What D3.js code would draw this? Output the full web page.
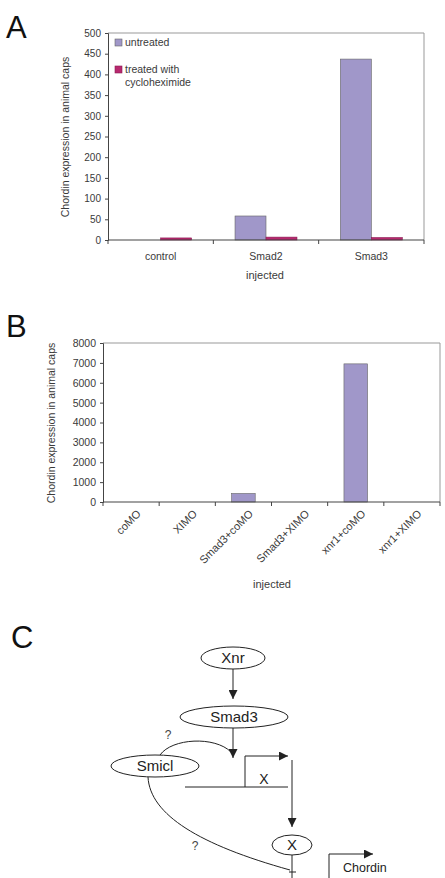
<!DOCTYPE html>
<html>
<head>
<meta charset="utf-8">
<script src="https://cdn.jsdelivr.net/npm/d3@7"></script>
<style>
  body { margin: 0; background: #fff; }
  svg { display: block; font-family: "Liberation Sans", Arial, sans-serif; }
</style>
</head>
<body>
<svg id="fig" width="445" height="878"></svg>
<script>
// panel A data
const catsA = ["control", "Smad2", "Smad3"];
const seriesA = ["untreated", "treated with cycloheximide"];
const untreatedA = [0, 58, 437];
const cycloA = [5, 7, 6];
const ticksA = [0, 50, 100, 150, 200, 250, 300, 350, 400, 450, 500];

// panel B data
const catsB = ["coMO", "XIMO", "Smad3+coMO", "Smad3+XIMO", "xnr1+coMO", "xnr1+XIMO"];
const valuesB = [0, 0, 430, 0, 6950, 0];
const ticksB = [0, 1000, 2000, 3000, 4000, 5000, 6000, 7000, 8000];

const purple = "#a097c9";
const magenta = "#b8286f";
const txt = "#3a3a3a";

const svg = d3.select("#fig");

// panel letters
[["A", 6, 38], ["B", 6, 337], ["C", 11, 648]].forEach(([t, x, y]) => {
  svg.append("text").attr("x", x).attr("y", y)
    .attr("font-size", 31).attr("fill", "#111").text(t);
});

function frame(g, x0, x1, y0, y1) {
  g.append("path")
    .attr("d", `M${x0},${y0}H${x1}V${y1}`)
    .attr("fill", "none").attr("stroke", "#999").attr("stroke-width", 1);
}

function leftAxis(g, y, ticks, x0, fs) {
  const ax = g.append("g").attr("transform", `translate(${x0},0)`)
    .call(d3.axisLeft(y).tickValues(ticks).tickFormat(d3.format("d")).tickSize(3).tickPadding(4));
  ax.select(".domain").attr("stroke", "#444");
  ax.selectAll(".tick line").attr("stroke", "#444");
  ax.selectAll("text").attr("font-size", fs).attr("fill", txt)
    .attr("font-family", "Liberation Sans, Arial, sans-serif");
}

function bottomBoundaries(g, x, cats, y0) {
  const edges = cats.map(c => x(c)).concat([x.range()[1]]);
  g.append("line").attr("x1", x.range()[0]).attr("x2", x.range()[1])
    .attr("y1", y0).attr("y2", y0).attr("stroke", "#444").attr("stroke-width", 1.2);
  g.selectAll(".edge").data(edges).enter().append("line")
    .attr("x1", d => d).attr("x2", d => d)
    .attr("y1", y0).attr("y2", y0 + 4).attr("stroke", "#444");
}

// ---------- panel A ----------
const gA = svg.append("g");
const xA = d3.scaleBand().domain(catsA).range([108, 424]).padding(0);
const x1A = d3.scaleBand().domain(seriesA).range([0, xA.bandwidth()]).paddingInner(0).paddingOuter(0.7);
const yA = d3.scaleLinear().domain([0, 500]).range([240, 33]);

frame(gA, 108, 424, 33, 240);

const dataA = catsA.map((c, i) => ({ cat: c, vals: [untreatedA[i], cycloA[i]] }));
gA.selectAll(".grp").data(dataA).enter().append("g")
  .attr("transform", d => `translate(${xA(d.cat)},0)`)
  .selectAll("rect").data(d => d.vals.map((v, j) => ({ s: seriesA[j], v }))).enter()
  .append("rect")
  .attr("x", d => x1A(d.s))
  .attr("y", d => yA(d.v))
  .attr("width", x1A.bandwidth())
  .attr("height", d => yA(0) - yA(d.v))
  .attr("fill", (d, j) => j === 0 ? purple : magenta)
  .attr("stroke", (d, j) => j === 0 ? "#666" : "#8a1d52")
  .attr("stroke-width", 0.6);

leftAxis(gA, yA, ticksA, 108, 10);
bottomBoundaries(gA, xA, catsA, 240);

gA.selectAll(".catA").data(catsA).enter().append("text")
  .attr("x", d => xA(d) + xA.bandwidth() / 2).attr("y", 260)
  .attr("text-anchor", "middle").attr("font-size", 10.5).attr("fill", txt).text(d => d);

gA.append("text").attr("x", 265).attr("y", 279).attr("text-anchor", "middle")
  .attr("font-size", 11).attr("fill", txt).text("injected");

gA.append("text").attr("transform", "translate(69,137) rotate(-90)")
  .attr("text-anchor", "middle").attr("font-size", 10.5).attr("fill", txt)
  .text("Chordin expression in animal caps");

// legend
const legA = gA.append("g");
legA.append("rect").attr("x", 115).attr("y", 39).attr("width", 7).attr("height", 7)
  .attr("fill", purple).attr("stroke", "#666").attr("stroke-width", 0.6);
legA.append("text").attr("x", 125).attr("y", 46).attr("font-size", 10.5).attr("fill", txt).text("untreated");
legA.append("rect").attr("x", 115).attr("y", 66).attr("width", 7).attr("height", 7)
  .attr("fill", magenta).attr("stroke", "#8a1d52").attr("stroke-width", 0.6);
legA.append("text").attr("x", 125).attr("y", 73).attr("font-size", 10.5).attr("fill", txt).text("treated with");
legA.append("text").attr("x", 125).attr("y", 86).attr("font-size", 10.5).attr("fill", txt).text("cycloheximide");

// ---------- panel B ----------
const gB = svg.append("g");
const xB = d3.scaleBand().domain(catsB).range([103, 440]).padding(0);
const yB = d3.scaleLinear().domain([0, 8000]).range([502, 343]);
const bwB = xB.bandwidth() * 0.42;

frame(gB, 103, 440, 343, 502);

gB.selectAll(".barB").data(catsB.map((c, i) => ({ c, v: valuesB[i] }))).enter()
  .append("rect")
  .attr("x", d => xB(d.c) + (xB.bandwidth() - bwB) / 2)
  .attr("y", d => yB(d.v))
  .attr("width", bwB)
  .attr("height", d => yB(0) - yB(d.v))
  .attr("fill", purple).attr("stroke", "#666").attr("stroke-width", 0.6);

leftAxis(gB, yB, ticksB, 103, 10.5);
bottomBoundaries(gB, xB, catsB, 502);

gB.selectAll(".catB").data(catsB).enter().append("text")
  .attr("transform", d => `translate(${xB(d) + xB.bandwidth() / 2 + 5},${509}) rotate(-45)`)
  .attr("text-anchor", "end").attr("dy", "0.7em")
  .attr("font-size", 11).attr("fill", txt).text(d => d);

gB.append("text").attr("x", 272).attr("y", 588).attr("text-anchor", "middle")
  .attr("font-size", 11).attr("fill", txt).text("injected");

gB.append("text").attr("transform", "translate(55,423) rotate(-90)")
  .attr("text-anchor", "middle").attr("font-size", 10.5).attr("fill", txt)
  .text("Chordin expression in animal caps");

// ---------- panel C (pathway diagram) ----------
const gC = svg.append("g");
const ink = "#222";
svg.append("defs").append("marker")
  .attr("id", "arr").attr("viewBox", "0 0 10 10").attr("refX", 10).attr("refY", 5)
  .attr("markerWidth", 9).attr("markerHeight", 9).attr("markerUnits", "userSpaceOnUse")
  .attr("orient", "auto")
  .append("path").attr("d", "M0,0L10,5L0,10Z").attr("fill", ink);

const nodes = [
  { t: "Xnr", cx: 233, cy: 658, rx: 32, ry: 11, fs: 15 },
  { t: "Smad3", cx: 234, cy: 717, rx: 54, ry: 11, fs: 15 },
  { t: "Smicl", cx: 155, cy: 766, rx: 44, ry: 11, fs: 15 },
  { t: "X", cx: 292, cy: 845, rx: 20, ry: 10, fs: 15 }
];
gC.selectAll("ellipse").data(nodes).enter().append("ellipse")
  .attr("cx", d => d.cx).attr("cy", d => d.cy).attr("rx", d => d.rx).attr("ry", d => d.ry)
  .attr("fill", "#fff").attr("stroke", ink).attr("stroke-width", 1);
gC.selectAll(".lbl").data(nodes).enter().append("text")
  .attr("x", d => d.cx).attr("y", d => d.cy).attr("dy", "0.36em")
  .attr("text-anchor", "middle").attr("font-size", d => d.fs).attr("fill", ink).text(d => d.t);

const line = (d, arrow) => gC.append("path").attr("d", d).attr("fill", "none")
  .attr("stroke", ink).attr("stroke-width", 1)
  .attr("marker-end", arrow ? "url(#arr)" : null);

line("M233,669V699", true);
line("M233,728V758", true);
line("M160,755C172,738 215,736 231,752", false);
// gene X with promoter arrow
line("M185,787H288", false);
line("M245,787V756H288", true);
gC.append("text").attr("x", 264).attr("y", 779).attr("dy", "0.36em")
  .attr("text-anchor", "middle").attr("font-size", 14).attr("fill", ink).text("X");
line("M292,760V827", true);
// X protein inhibits, Smicl curve
line("M292,855V878", false);
line("M289,872H296", false);
line("M148,777C150,815 200,845 290,870", false);
// chordin promoter
line("M329,878V854H373", true);
gC.append("text").attr("x", 343).attr("y", 872).attr("font-size", 12.5).attr("fill", ink).text("Chordin");

gC.append("text").attr("x", 168).attr("y", 739).attr("text-anchor", "middle")
  .attr("font-size", 12).attr("fill", "#444").text("?");
gC.append("text").attr("x", 195).attr("y", 850).attr("text-anchor", "middle")
  .attr("font-size", 12).attr("fill", "#444").text("?");
</script>
</body>
</html>
